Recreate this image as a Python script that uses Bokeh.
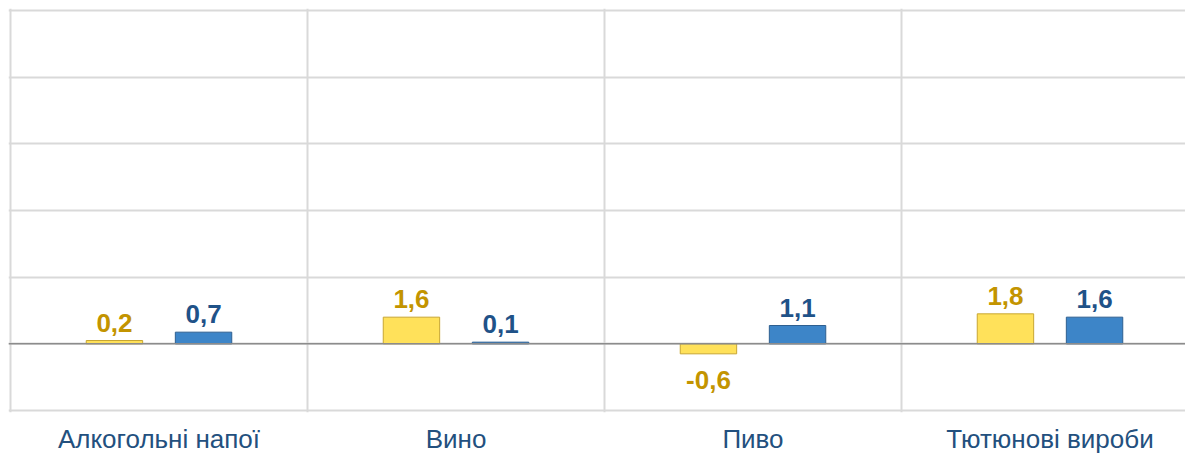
from bokeh.plotting import figure
from bokeh.models import FixedTicker, Span, Range1d, ColumnDataSource
from bokeh.core.properties import value
from bokeh.embed import file_html
from bokeh.resources import INLINE

categories = ["Алкогольні напої", "Вино", "Пиво", "Тютюнові вироби"]
series_a = [0.2, 1.6, -0.6, 1.8]   # yellow
series_b = [0.7, 0.1, 1.1, 1.6]    # blue
y_ticks = [-4, 0, 4, 8, 12, 16, 20]

W, H = 1185, 456
cat_px = 297.0
unit_px = 400.0 / 24.0
pad = 2  # pixels of padding so edge gridlines are fully visible
left_px = 10 - pad
top_px = 10 - pad
frame_h = 400 + 2 * pad
frame_w = W - left_px
x_start = -pad / cat_px
x_end = x_start + frame_w / cat_px
y_start = -4 - pad / unit_px
y_end = 20 + pad / unit_px

p = figure(width=W, height=H, output_backend="svg", toolbar_location=None,
           x_range=Range1d(x_start, x_end), y_range=Range1d(y_start, y_end),
           min_border_left=left_px, min_border_right=0, min_border_top=top_px,
           min_border_bottom=H - top_px - frame_h)
p.outline_line_color = None
p.background_fill_color = "white"
p.border_fill_color = "white"

p.yaxis.visible = False
p.ygrid.ticker = FixedTicker(ticks=y_ticks)
p.ygrid.grid_line_color = "#D9D9D9"
p.ygrid.grid_line_width = 2
p.xgrid.ticker = FixedTicker(ticks=list(range(len(categories) + 1)))
p.xgrid.grid_line_color = "#D9D9D9"
p.xgrid.grid_line_width = 2

centers = [i + 0.5 for i in range(len(categories))]
p.xaxis.ticker = FixedTicker(ticks=centers)
p.xaxis.major_label_overrides = {c: n for c, n in zip(centers, categories)}
p.xaxis.axis_line_color = None
p.xaxis.major_tick_line_color = None
p.xaxis.minor_tick_line_color = None
p.xaxis.major_tick_out = 0
p.xaxis.major_tick_in = 0
p.xaxis.minor_tick_out = 0
p.xaxis.minor_tick_in = 0
p.xaxis.major_label_text_font = "Liberation Sans"
p.xaxis.major_label_text_font_size = "26px"
p.xaxis.major_label_text_color = "#23507E"
p.xaxis.major_label_standoff = 11

p.add_layout(Span(location=0, dimension="width", line_color="#8C8C8C", line_width=1.5))

xa = [i + 0.35 for i in range(len(categories))]
xb = [i + 0.65 for i in range(len(categories))]
bw = 0.19

p.vbar(x=xa, top=series_a, bottom=0, width=bw, fill_color="#FFE15A",
       line_color="#C8A632", line_width=1)
p.vbar(x=xb, top=series_b, bottom=0, width=bw, fill_color="#3D85C8",
       line_color="#2E5F90", line_width=1)

def add_labels(xs, vals, color):
    pos = ColumnDataSource(dict(x=[x for x, v in zip(xs, vals) if v >= 0],
                                y=[v for v in vals if v >= 0],
                                t=[f"{v:.1f}".replace(".", ",") for v in vals if v >= 0]))
    neg = ColumnDataSource(dict(x=[x for x, v in zip(xs, vals) if v < 0],
                                y=[v for v in vals if v < 0],
                                t=[f"{v:.1f}".replace(".", ",") for v in vals if v < 0]))
    common = dict(text="t", text_align="center", text_color=color,
                  text_font=value("Liberation Sans"), text_font_style="bold",
                  text_font_size="26px")
    p.text(x="x", y="y", source=pos, text_baseline="bottom", y_offset=-9, **common)
    p.text(x="x", y="y", source=neg, text_baseline="top", y_offset=17, **common)

add_labels(xa, series_a, "#C39400")
add_labels(xb, series_b, "#1F5288")

open("out.html", "w").write(file_html(p, INLINE))
